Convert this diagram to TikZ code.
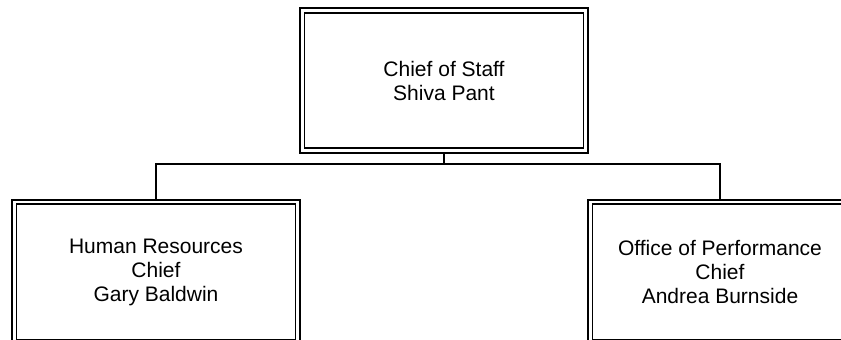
\documentclass[tikz,border=0pt]{standalone}
\usepackage{fontspec}
\setmainfont{Liberation Sans}
\usepackage{xcolor}
\usetikzlibrary{positioning,calc}
\definecolor{ink}{HTML}{000000}
\tikzset{
  post/.style   ={draw=ink, fill=white, line width=1.8pt, double=white,
                  double distance=2.7pt, outer sep=3.1pt,
                  minimum width=283.5pt, minimum height=140pt,
                  align=center, inner sep=0pt,
                  font=\fontsize{21}{24}\selectfont},
  link/.style   ={draw=ink, line width=1.5pt},
}
\begin{document}
\begin{tikzpicture}[x=1pt,y=1pt]
  \useasboundingbox (0,0) rectangle (841,340);
  \clip (0,0) rectangle (841,340);
  % head of the office
  \node[post] (staff) at (444,259.5) {Chief of Staff\\Shiva Pant};
  % the two offices below
  \node[post] (hr)   at (156,68) {Human Resources\\Chief\\Gary Baldwin};
  \node[post,minimum width=259.5pt] (perf) at (720,68)
    {Office of Performance\\Chief\\Andrea Burnside};
  \coordinate (bus) at (444,176);
  \draw[link] (staff.south) -- (bus);
  \draw[link] (hr.north) |- (bus) -| (perf.north);
\end{tikzpicture}
\end{document}
